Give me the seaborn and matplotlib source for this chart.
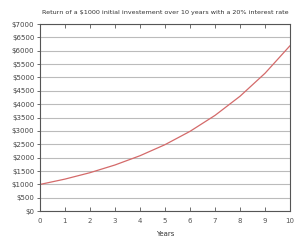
import matplotlib
matplotlib.use('Agg')
import matplotlib.pyplot as plt
import seaborn as sns
import pandas as pd

years = [0, 1, 2, 3, 4, 5, 6, 7, 8, 9, 10]
capital = [1000, 1200, 1440, 1728, 2074, 2488, 2986, 3583, 4300, 5160, 6192]
y_ticks = list(range(0, 7001, 500))

df = pd.DataFrame({'Years': years, 'Capital': capital})

sns.set_style('white')
plt.rcParams['font.family'] = ['DejaVu Sans']

fig = plt.figure(figsize=(3.0, 2.4), dpi=100)
ax = fig.add_axes([0.133, 0.12, 0.834, 0.78])

sns.lineplot(data=df, x='Years', y='Capital', ax=ax, color='#d46a6a', linewidth=0.9)

ax.set_xlim(0, 10)
ax.set_ylim(0, 7000)
ax.set_xticks(years)
ax.set_yticks(y_ticks)
ax.set_yticklabels(['$%d' % v for v in y_ticks])
ax.yaxis.grid(True, color='#bbbbbb', linewidth=0.8)
ax.set_axisbelow(True)

ax.tick_params(axis='x', direction='in', top=True, bottom=True, length=3,
               width=0.6, color='#555555', labelsize=5, labelcolor='#555555', pad=5)
ax.tick_params(axis='y', direction='out', left=True, length=2, width=0.6,
               color='#555555', labelsize=5, labelcolor='#444444', pad=2)
for s in ax.spines.values():
    s.set_color('#555555')
    s.set_linewidth(0.8)

ax.set_xlabel('Years', fontsize=5, color='#333333', labelpad=5)
ax.set_ylabel('')
ax.set_title('Return of a $1000 initial investement over 10 years with a 20% interest rate',
             fontsize=4.6, color='#333333', pad=7)

fig.savefig('out.png', dpi=100)
